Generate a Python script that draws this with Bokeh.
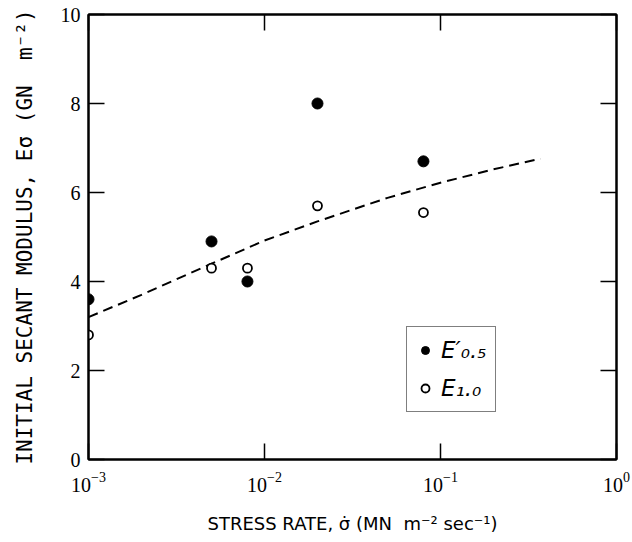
from bokeh.plotting import figure
from bokeh.models import (LogAxis, LinearAxis, FixedTicker, Legend, LegendItem,
                          ColumnDataSource, LogTickFormatter)
from bokeh.embed import file_html
from bokeh.resources import INLINE

# ---- data ----
stress_rate = [1e-3, 5e-3, 8e-3, 2e-2, 8e-2]
e_05 = [3.6, 4.9, 4.0, 8.0, 6.7]
e_10 = [2.8, 4.3, 4.3, 5.7, 5.55]

fit_x = [1e-3, 2e-3, 5e-3, 1e-2, 2e-2, 5e-2, 1e-1, 2e-1, 3.7e-1]
fit_y = [3.2, 3.7, 4.4, 4.92, 5.35, 5.88, 6.22, 6.52, 6.76]

x_ticks = [1e-3, 1e-2, 1e-1, 1.0]
y_ticks = [0, 2, 4, 6, 8, 10]

x_label = "STRESS RATE, \u03c3\u0307 (MN\u00a0\u00a0m\u207b\u00b2 sec\u207b\u00b9)"
y_label = "INITIAL SECANT MODULUS, E\u03c3 (GN\u00a0\u00a0m\u207b\u00b2)"
legend_labels = ["E\u2032\u2080.\u2085", "E\u2081.\u2080"]

# ---- figure ----
p = figure(width=632, height=542, x_axis_type="log", x_range=(1e-3, 1.0),
           y_range=(0, 10), output_backend="svg", toolbar_location=None,
           min_border_left=88, min_border_right=16, min_border_top=14,
           min_border_bottom=83)
p.xgrid.visible = False
p.ygrid.visible = False
p.outline_line_color = "black"
p.outline_line_width = 2
p.outline_line_alpha = 1.0
p.background_fill_color = "white"
p.border_fill_color = "white"

tick_font = "Liberation Serif"

xa = p.xaxis[0]
xa.ticker = FixedTicker(ticks=x_ticks, minor_ticks=[])
xa.formatter = LogTickFormatter(min_exponent=0)
xa.axis_label = x_label

ya = p.yaxis[0]
ya.ticker = FixedTicker(ticks=y_ticks, minor_ticks=[])
ya.axis_label = y_label

for ax in (xa, ya):
    ax.axis_line_width = 2
    ax.axis_line_color = "black"
    ax.major_tick_in = 16
    ax.major_tick_out = 0
    ax.major_tick_line_width = 1.5
    ax.minor_tick_line_color = None
    ax.major_label_text_font = tick_font
    ax.major_label_text_font_size = "20px"
    ax.major_label_text_color = "black"
    ax.axis_label_text_font_style = "normal"
    ax.axis_label_text_color = "black"

xa.major_label_standoff = 12
xa.axis_label_text_font = "DejaVu Sans"
xa.axis_label_text_font_size = "18px"
xa.axis_label_standoff = 18
ya.major_label_standoff = 8
ya.axis_label_text_font = "DejaVu Sans Mono"
ya.axis_label_text_font_size = "21px"
ya.axis_label_standoff = 21

right = LinearAxis(ticker=FixedTicker(ticks=y_ticks, minor_ticks=[]))
top = LogAxis(ticker=FixedTicker(ticks=x_ticks, minor_ticks=[]))
for ax in (right, top):
    ax.axis_line_width = 2
    ax.major_tick_in = 16
    ax.major_tick_out = 0
    ax.major_tick_line_width = 1.5
    ax.minor_tick_line_color = None
    ax.major_label_text_font_size = "1px"
    ax.major_label_text_alpha = 0
    ax.major_label_standoff = 0
p.add_layout(right, "right")
p.add_layout(top, "above")

# ---- glyphs ----
p.line(fit_x, fit_y, line_color="black", line_width=2, line_dash="10 6")

src = ColumnDataSource(dict(x=stress_rate, e05=e_05, e10=e_10))
r_filled = p.scatter("x", "e05", source=src, marker="circle", size=11,
                     fill_color="black", line_color="black")
r_open = p.scatter("x", "e10", source=src, marker="circle", size=9,
                   fill_color="white", line_color="black", line_width=1.8)

legend = Legend(items=[LegendItem(label=legend_labels[0], renderers=[r_filled]),
                       LegendItem(label=legend_labels[1], renderers=[r_open])],
                location=(318, 47), margin=0, padding=8, spacing=8,
                glyph_width=20, glyph_height=30, label_height=30,
                label_standoff=6,
                label_text_font="DejaVu Sans", label_text_font_style="italic",
                label_text_font_size="23px", label_text_color="black",
                border_line_color="black", border_line_width=1.5,
                background_fill_color="white", background_fill_alpha=1.0)
p.add_layout(legend)

open("out.html", "w").write(file_html(p, INLINE))
